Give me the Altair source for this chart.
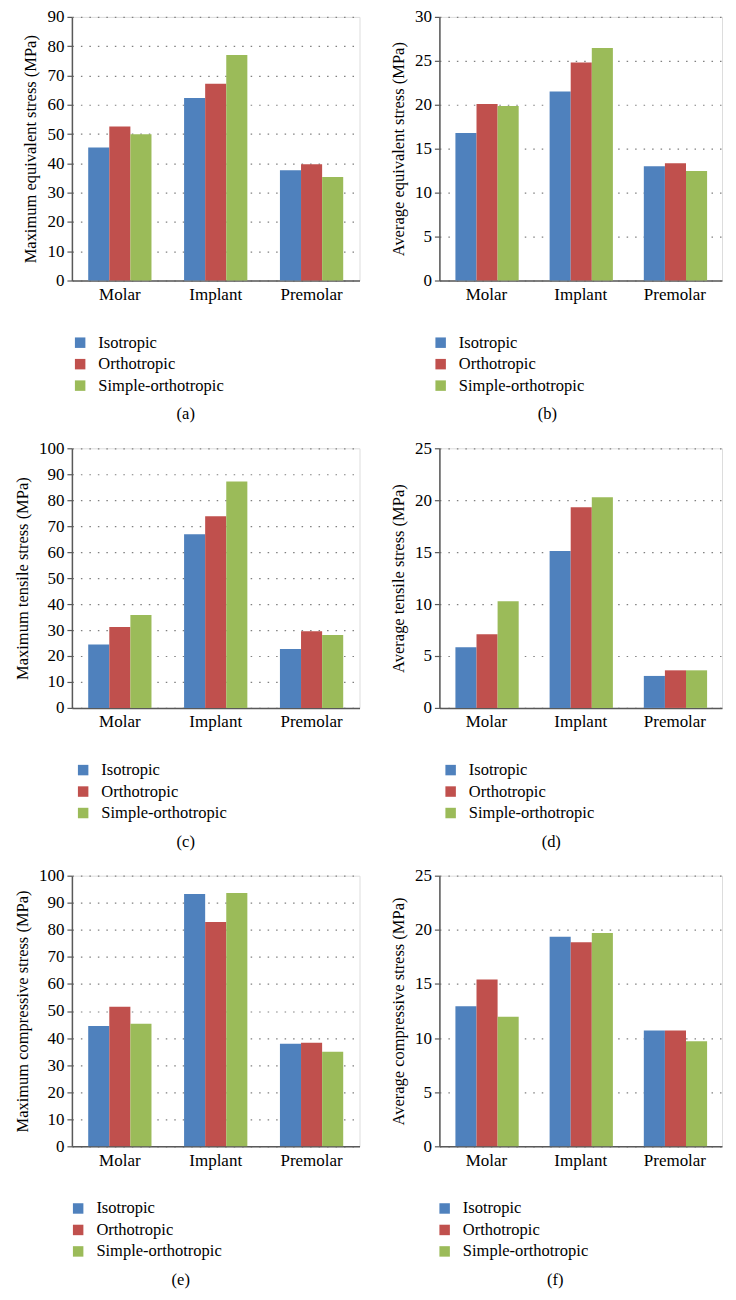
import altair as alt
import pandas as pd

teeth = ["Molar", "Implant", "Premolar"]
models = ["Isotropic", "Orthotropic", "Simple-orthotropic"]
colors = ["#4F81BD", "#C0504D", "#9BBB59"]

# (a) maximum equivalent stress
a_iso = [45.4, 62.3, 37.6]
a_ortho = [52.6, 67.2, 39.7]
a_simple = [49.9, 77.0, 35.3]
# (b) average equivalent stress
b_iso = [16.8, 21.5, 13.0]
b_ortho = [20.1, 24.8, 13.35]
b_simple = [19.85, 26.45, 12.45]
# (c) maximum tensile stress
c_iso = [24.4, 66.9, 22.7]
c_ortho = [31.2, 73.8, 29.5]
c_simple = [35.8, 87.2, 28.1]
# (d) average tensile stress
d_iso = [5.83, 15.1, 3.08]
d_ortho = [7.1, 19.33, 3.62]
d_simple = [10.26, 20.29, 3.62]
# (e) maximum compressive stress
e_iso = [44.5, 93.2, 37.9]
e_ortho = [51.6, 82.9, 38.3]
e_simple = [45.3, 93.6, 34.9]
# (f) average compressive stress
f_iso = [12.93, 19.37, 10.71]
f_ortho = [15.42, 18.85, 10.71]
f_simple = [11.98, 19.7, 9.7]

y_titles = [
    "Maximum equivalent stress (MPa)",
    "Average equivalent stress (MPa)",
    "Maximum tensile stress (MPa)",
    "Average tensile stress (MPa)",
    "Maximum compressive stress (MPa)",
    "Average compressive stress (MPa)",
]
y_max = [90, 30, 100, 25, 100, 25]
y_step = [10, 5, 10, 5, 10, 5]
captions = ["(a)", "(b)", "(c)", "(d)", "(e)", "(f)"]

FONT = "Liberation Serif"
AXIS_COLOR = "#595959"


def panel(iso, ortho, simple, idx, w, h, lx, cx):
    df = pd.DataFrame({
        "tooth": teeth * 3,
        "model": [m for m in models for _ in teeth],
        "value": iso + ortho + simple,
    })
    ticks = list(range(0, y_max[idx] + 1, y_step[idx]))
    bars = alt.Chart(df).mark_bar().encode(
        x=alt.X(
            "tooth:N", sort=teeth,
            scale=alt.Scale(paddingInner=0.34, paddingOuter=0.17),
            axis=alt.Axis(
                title=None, labelAngle=0, ticks=False, domainColor=AXIS_COLOR,
                domainWidth=1.5, labelFontSize=17, labelPadding=6,
                labelColor="black", labelFont=FONT,
            ),
        ),
        xOffset=alt.XOffset(
            "model:N", sort=models,
            scale=alt.Scale(paddingInner=0, paddingOuter=0),
        ),
        y=alt.Y(
            "value:Q",
            scale=alt.Scale(domain=[0, y_max[idx]], nice=False),
            axis=alt.Axis(
                title=y_titles[idx], values=ticks, grid=True,
                gridDash=[1.5, 7], gridColor="#7f7f7f", gridWidth=1.2,
                domainColor=AXIS_COLOR, domainWidth=1.5,
                tickColor=AXIS_COLOR, tickSize=5, tickWidth=1.2,
                labelFontSize=17, labelColor="black", labelFont=FONT,
                labelPadding=3,
                titleFontSize=16.5, titleFontWeight="normal",
                titleColor="black", titleFont=FONT, titlePadding=8,
            ),
        ),
        color=alt.Color(
            "model:N", sort=models, title=None,
            scale=alt.Scale(domain=models, range=colors),
            legend=alt.Legend(
                orient="none", legendX=lx, legendY=h + 54,
                direction="vertical", symbolType="square", symbolSize=110,
                symbolStrokeWidth=0, symbolOpacity=1,
                labelFontSize=16.5, labelFont=FONT, labelColor="black",
                labelOffset=10, rowPadding=4.5, padding=0,
            ),
        ),
    )
    cap = alt.Chart(pd.DataFrame({"cap": [captions[idx]]})).mark_text(
        font=FONT, fontSize=16.5, color="black", baseline="middle", align="center"
    ).encode(
        text="cap:N",
        x=alt.value(cx),
        y=alt.value(h + 134),
    )
    return alt.layer(bars, cap).properties(width=w, height=h)


pa = panel(a_iso, a_ortho, a_simple, 0, 288, 264, 0, 114)
pb = panel(b_iso, b_ortho, b_simple, 1, 283, 264, -7, 108)
pc = panel(c_iso, c_ortho, c_simple, 2, 288, 260, 3, 114)
pd_ = panel(d_iso, d_ortho, d_simple, 3, 283, 260, 3, 112)
pe = panel(e_iso, e_ortho, e_simple, 4, 288, 271, -2, 109)
pf = panel(f_iso, f_ortho, f_simple, 5, 283, 271, -3, 116)

chart = alt.concat(
    pa, pb, pc, pd_, pe, pf,
    columns=2,
    spacing={"row": 168, "column": 80},
    bounds="flush",
    align="each",
).resolve_scale(
    color="independent"
).properties(
    padding={"left": 5, "top": -2, "right": 5, "bottom": 5}
).configure_view(stroke=None).configure(font=FONT, background="white")

chart.save("out.html", embed_options={"renderer": "svg", "actions": False})
